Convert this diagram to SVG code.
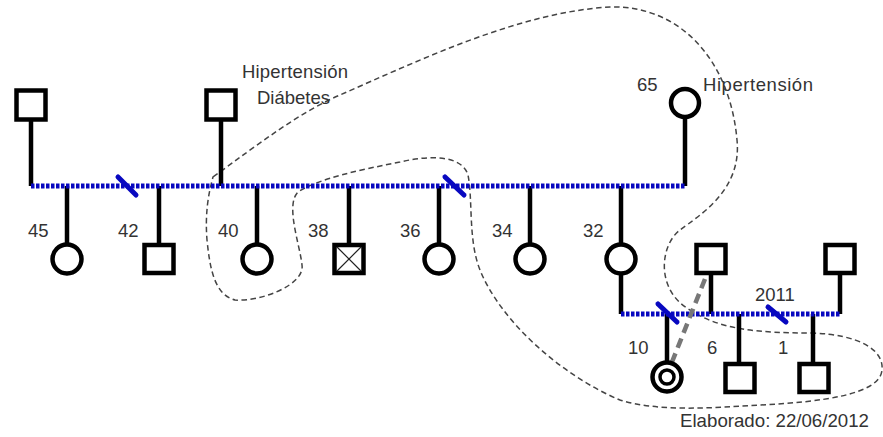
<svg xmlns="http://www.w3.org/2000/svg" width="883" height="437" viewBox="0 0 883 437">
<style>
.ln{stroke:#000;stroke-width:4.5;fill:none}
.sym{stroke:#000;stroke-width:4.5;fill:#fff}
.rel{stroke:#0808c0;stroke-width:5;stroke-dasharray:3.5 1.5;fill:none}
.div{stroke:#0808c0;stroke-width:5;stroke-linecap:round}
.txt{font-family:"Liberation Sans",Arial,sans-serif;font-size:18.5px;fill:#333}
.hh{fill:none;stroke:#444;stroke-width:1.5;stroke-dasharray:5.5 3.5}
</style>
<rect width="883" height="437" fill="#fff"/>
<g id="household">
<path class="hh" d="M213,177 C260,143 300,112 340,95 C420,60 520,12 610,7 C680,5 730,60 737,140 C742,190 700,215 680,230 C660,245 655,290 690,310 C720,330 760,333 813,333 C860,335 884,350 882,370 C880,395 820,402 760,405 C710,408 660,412 620,400 C560,375 500,320 480,270 C468,240 473,200 468,175 C462,155 430,155 400,162 C360,170 320,178 298,192 C285,205 300,245 302,265 C305,285 260,302 235,300 C215,295 210,270 207,240 C205,215 208,195 213,177 Z"/>
</g>
<g id="connectors">
<line class="ln" x1="31" y1="120" x2="31" y2="186"/>
<line class="ln" x1="221" y1="120" x2="221" y2="186"/>
<line class="ln" x1="685" y1="118" x2="685" y2="186"/>
<line class="ln" x1="67" y1="186" x2="67" y2="245"/>
<line class="ln" x1="159" y1="186" x2="159" y2="245"/>
<line class="ln" x1="257" y1="186" x2="257" y2="245"/>
<line class="ln" x1="349" y1="186" x2="349" y2="245"/>
<line class="ln" x1="439" y1="186" x2="439" y2="245"/>
<line class="ln" x1="530" y1="186" x2="530" y2="245"/>
<line class="ln" x1="621" y1="186" x2="621" y2="245"/>
<line class="ln" x1="621" y1="273" x2="621" y2="314"/>
<line class="ln" x1="711" y1="273" x2="711" y2="314"/>
<line class="ln" x1="840" y1="273" x2="840" y2="314"/>
<line class="ln" x1="667" y1="314" x2="667" y2="362"/>
<line class="ln" x1="739" y1="314" x2="739" y2="364"/>
<line class="ln" x1="813" y1="314" x2="813" y2="364"/>
<line class="rel" x1="31" y1="186" x2="685" y2="186"/>
<line class="rel" x1="621" y1="314" x2="840" y2="314"/>
<line class="div" x1="118" y1="177" x2="136" y2="195"/>
<line class="div" x1="445" y1="177" x2="464" y2="195"/>
<line class="div" x1="658" y1="304" x2="677" y2="322"/>
<line class="div" x1="768" y1="307" x2="786" y2="322"/>
<line stroke="#777" stroke-width="4.5" stroke-dasharray="10 6" x1="705" y1="279" x2="672" y2="362"/>
</g>
<g id="grandfather1"><rect class="sym" x="16.5" y="90.5" width="29" height="29"/></g>
<g id="grandfather2"><rect class="sym" x="206.5" y="90.5" width="29" height="29"/></g>
<g id="grandmother"><circle class="sym" cx="685" cy="103" r="14"/></g>
<g id="c45"><circle class="sym" cx="67" cy="259" r="14.5"/></g>
<g id="c42"><rect class="sym" x="144.5" y="245" width="29" height="28"/></g>
<g id="c40"><circle class="sym" cx="257" cy="259" r="14.5"/></g>
<g id="c38"><rect class="sym" x="334.5" y="245" width="29" height="28"/><path d="M337,247 L361,271 M361,247 L337,271" stroke="#222" stroke-width="1.2"/></g>
<g id="c36"><circle class="sym" cx="439" cy="259" r="14.5"/></g>
<g id="c34"><circle class="sym" cx="530" cy="259" r="14.5"/></g>
<g id="c32"><circle class="sym" cx="621" cy="259" r="14.5"/></g>
<g id="spouse1"><rect class="sym" x="696.5" y="245" width="29" height="28"/></g>
<g id="spouse2"><rect class="sym" x="825.5" y="245" width="29" height="28"/></g>
<g id="g10"><circle class="sym" cx="667" cy="377" r="14.5"/><circle cx="667" cy="377" r="7" fill="none" stroke="#000" stroke-width="3.5"/></g>
<g id="g6"><rect class="sym" x="725.5" y="364" width="29" height="28"/></g>
<g id="g1"><rect class="sym" x="799.5" y="364" width="29" height="28"/></g>
<g id="labels">
<text class="txt" x="242" y="78" textLength="106" lengthAdjust="spacing">Hipertensión</text>
<text class="txt" x="257" y="104">Diábetes</text>
<text class="txt" x="637" y="91">65</text>
<text class="txt" x="703" y="91" textLength="110" lengthAdjust="spacing">Hipertensión</text>
<text class="txt" x="28" y="237">45</text>
<text class="txt" x="118" y="237">42</text>
<text class="txt" x="218" y="237">40</text>
<text class="txt" x="308" y="237">38</text>
<text class="txt" x="400" y="237">36</text>
<text class="txt" x="492" y="237">34</text>
<text class="txt" x="583" y="237">32</text>
<text class="txt" x="755" y="301">2011</text>
<text class="txt" x="628" y="354">10</text>
<text class="txt" x="707" y="354">6</text>
<text class="txt" x="778" y="354">1</text>
<text class="txt" x="680" y="427" textLength="189" lengthAdjust="spacingAndGlyphs">Elaborado: 22/06/2012</text>
</g>
</svg>
